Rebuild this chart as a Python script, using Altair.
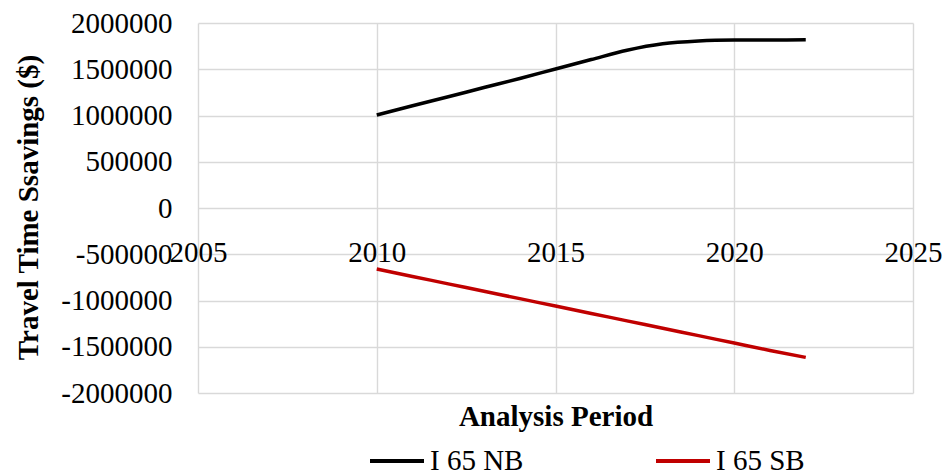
import altair as alt
import pandas as pd

years = [2010, 2011, 2012, 2013, 2014, 2015, 2016, 2017, 2018, 2019, 2020, 2021, 2022]
nb_values = [1005000, 1105000, 1203000, 1302000, 1400000, 1503000, 1605000, 1705000,
             1775000, 1805000, 1815000, 1816000, 1818000]
sb_values = [-660000, -740000, -820000, -900000, -980000, -1060000, -1140000, -1220000,
             -1300000, -1380000, -1460000, -1540000, -1615000]
series_names = ["I 65 NB", "I 65 SB"]
series_colors = ["#000000", "#C00000"]
x_ticks = [2005, 2010, 2015, 2020, 2025]
y_ticks = [-2000000, -1500000, -1000000, -500000, 0, 500000, 1000000, 1500000, 2000000]

rows = []
for y, v in zip(years, nb_values):
    rows.append({"year": y, "value": v, "series": series_names[0]})
for y, v in zip(years, sb_values):
    rows.append({"year": y, "value": v, "series": series_names[1]})
df = pd.DataFrame(rows)

FONT = "Liberation Serif"

chart = alt.Chart(df).mark_line(strokeWidth=3.5, interpolate="monotone").encode(
    x=alt.X("year:Q",
            scale=alt.Scale(domain=[2005, 2025], nice=False, zero=False),
            axis=alt.Axis(values=x_ticks, labelExpr="'' + datum.value", grid=True,
                          gridColor="#D9D9D9", gridWidth=1.4, domain=False, ticks=False,
                          labelFont=FONT, labelFontSize=29, labelColor="#000000",
                          labelPadding=0, labelBaseline="top", offset=-155,
                          labelFlush=False, labelOverlap=False,
                          title="Analysis Period", titleFont=FONT, titleFontSize=29,
                          titleFontWeight="bold", titleColor="#000000",
                          titleBaseline="top", titleY=164)),
    y=alt.Y("value:Q",
            scale=alt.Scale(domain=[-2000000, 2000000], nice=False),
            axis=alt.Axis(values=y_ticks, labelExpr="'' + datum.value", grid=True,
                          gridColor="#D9D9D9", gridWidth=1.4, domain=False, ticks=False,
                          labelFont=FONT, labelFontSize=29, labelColor="#000000",
                          labelPadding=26, labelBaseline="middle",
                          labelFlush=False, labelOverlap=False,
                          title="Travel Time Ssavings ($)", titleFont=FONT,
                          titleFontSize=29, titleFontWeight="bold", titleColor="#000000",
                          titleAngle=-90, titleAlign="center", titleBaseline="middle",
                          titleX=-170, titleY=184)),
    color=alt.Color("series:N",
                    scale=alt.Scale(domain=series_names, range=series_colors),
                    legend=alt.Legend(title=None, orient="none", direction="horizontal",
                                      legendX=170, legendY=409, symbolType="stroke",
                                      symbolSize=2916, symbolStrokeWidth=4,
                                      labelFont=FONT, labelFontSize=29,
                                      labelColor="#000000", labelOffset=4,
                                      columnPadding=124, padding=0)),
).properties(
    width=715,
    height=370,
    autosize=alt.AutoSizeParams(type="none"),
    padding={"left": 190, "top": 15, "right": 29, "bottom": 82},
).configure_view(stroke=None)

chart.save("out.html", embed_options={"renderer": "svg", "actions": False})
